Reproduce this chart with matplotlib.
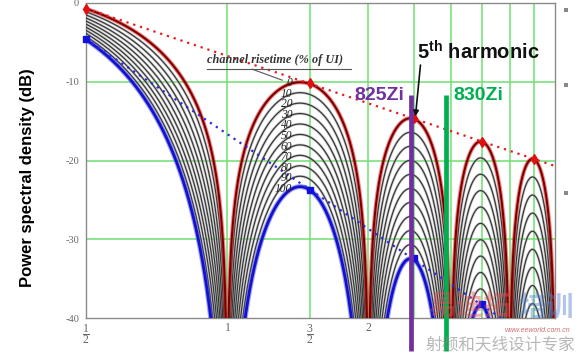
import numpy as np
import matplotlib.pyplot as plt
from matplotlib.ticker import NullLocator, FixedLocator

plt.rcParams['font.family'] = ['Liberation Sans', 'Noto Sans CJK SC', 'DejaVu Sans']
plt.rcParams['axes.unicode_minus'] = False
plt.rcParams['mathtext.fontset'] = 'custom'
plt.rcParams['mathtext.rm'] = 'Liberation Serif'
plt.rcParams['mathtext.it'] = 'Liberation Serif:italic'
plt.rcParams['mathtext.bf'] = 'Liberation Sans:bold'

# ---- data ----
risetime_pct = [0, 10, 20, 30, 40, 50, 60, 70, 80, 90, 100]
psd_offset_db = 3.2          # level of the 0% curve at f = 1/2 is about -0.7 dB
f_min, f_max = 0.5, 5.0
y_min, y_max = -40, 0

# envelope lines (dotted), end points
red_env_f = [0.5, 5.0]
red_env_db = [-0.7, -20.7]
blue_env_f = [0.5, 5.0]
blue_env_db = [-4.6, -44.6]

# peak markers
red_mark_f = [0.5, 1.5, 2.5, 3.5, 4.5]
red_mark_db = [-0.7, -10.2, -14.6, -17.6, -19.8]
blue_mark_f = [0.5, 1.5, 2.5, 3.5]
blue_mark_db = [-4.6, -23.7, -32.4, -38.2]

# scope bandwidth bars
scope_names = ['825Zi', '830Zi']
scope_f = [2.46, 2.93]
scope_colors = ['#7030a0', '#00b050']
bar_top_db = -11.7
bar_bottom_db = -44.2

xtick_vals = [0.5, 1, 1.5, 2]
xtick_labels = [r'$\dfrac{1}{2}$', r'$\mathrm{1}$', r'$\dfrac{3}{2}$', r'$\mathrm{2}$']
ytick_vals = [-40, -30, -20, -10, 0]
vgrid_f = [1, 1.5, 2, 2.5, 3, 3.5, 4, 4.5]
hgrid_db = [-10, -20, -30]

# ---- figure ----
fig = plt.figure(figsize=(5.82, 3.56), dpi=100, facecolor='white')
ax = fig.add_axes([86 / 582, 1 - 318 / 356, (555 - 86) / 582, (318 - 3) / 356])
ax.set_xscale('log')
ax.set_xlim(f_min, f_max)
ax.set_ylim(y_min, y_max)

for g in vgrid_f:
    ax.axvline(g, color='#70e070', lw=1.1, zorder=1)
for g in hgrid_db:
    ax.axhline(g, color='#70e070', lw=1.1, zorder=1)

freq = np.geomspace(f_min, f_max, 5000)
sinc_db = 20 * np.log10(np.maximum(np.abs(np.sinc(freq)), 1e-9))

curves = {}
for r in risetime_pct:
    curves[r] = psd_offset_db + (1 + r / 100) * sinc_db

for r in risetime_pct[1:-1]:
    ax.plot(freq, curves[r], color='#b4b4b4', lw=2.0, alpha=0.6, zorder=2)
    ax.plot(freq, curves[r], color='#383838', lw=0.9, zorder=3)

# 100% (blue) and 0% (red)
ax.plot(freq, curves[100], color='#4a4aff', lw=3.6, alpha=0.55, zorder=4)
ax.plot(freq, curves[100], color='#1212c8', lw=2.0, zorder=4)
ax.plot(freq, curves[0], color='#e83030', lw=3.0, alpha=0.6, zorder=5)
ax.plot(freq, curves[0], color='#7a0000', lw=1.5, zorder=5)

# envelopes
ax.plot(red_env_f, red_env_db, color='#e02020', lw=1.6, ls=(0, (1, 2.2)), zorder=6)
ax.plot(blue_env_f, blue_env_db, color='#2a2ae0', lw=1.6, ls=(0, (1, 2.2)), zorder=6)
ax.plot(red_mark_f, red_mark_db, 'd', color='#e01010', ms=5, zorder=7, clip_on=False)
ax.plot(blue_mark_f, blue_mark_db, 's', color='#1010e0', ms=5, zorder=7, clip_on=False)

# rise time labels on the second lobe
f_lab = 1.375
for r in risetime_pct:
    yv = np.interp(f_lab, freq, curves[r])
    ax.text(f_lab, yv, str(r), ha='right', va='center', fontsize=8.3,
            family='Liberation Serif', style='italic', color='#222', zorder=8)
ax.text(0.905, -7.2, 'channel risetime (% of UI)', fontsize=8.8, family='Liberation Serif',
        style='italic', weight='bold', color='#333', va='center', zorder=8)
ax.plot([0.905, 1.84], [-8.4, -8.4], color='#555', lw=0.8, zorder=8)
ax.plot([1.13, 1.31], [-8.4, -9.8], color='#555', lw=0.8, zorder=8)

# scope bars
for name, fx, col in zip(scope_names, scope_f, scope_colors):
    ax.plot([fx, fx], [bar_top_db, bar_bottom_db], color=col, lw=3.4,
            solid_capstyle='butt', clip_on=False, zorder=9)
ax.text(2.39, bar_top_db, scope_names[0], color=scope_colors[0], fontsize=14,
        weight='bold', ha='right', va='center', zorder=9)
ax.text(3.04, bar_top_db, scope_names[1], color=scope_colors[1], fontsize=14,
        weight='bold', ha='left', va='center', zorder=9)

# 5th harmonic
ax.annotate(r'5$^{\mathbf{th}}$ harmonic', xy=(2.52, -14.4), xytext=(2.54, -6.1),
            fontsize=14.5, weight='bold', color='#111', ha='left', va='center',
            arrowprops=dict(arrowstyle='-|>', color='#111', lw=1.2, mutation_scale=8,
                            shrinkA=0, shrinkB=0, relpos=(0.03, 0)), zorder=10)

# axes styling
ax.xaxis.set_major_locator(FixedLocator(xtick_vals))
ax.xaxis.set_minor_locator(NullLocator())
ax.set_xticklabels(xtick_labels)
ax.set_yticks(ytick_vals)
ax.set_yticklabels([str(v) for v in ytick_vals])
ax.tick_params(length=0, labelsize=7.5, labelcolor='#666', pad=5)
ax.tick_params(axis='x', labelsize=8.5, pad=3)
for lab in ax.get_yticklabels():
    lab.set_family('Liberation Serif')
for sp in ax.spines.values():
    sp.set_color('#8a8a8a')
    sp.set_linewidth(1.0)

fig.text(28 / 582, 0.5, 'Power spectral density (dB)', rotation=90, fontsize=12,
         weight='bold', ha='center', va='center', color='black')

# small gray squares at right edge
for yy in [10, 85, 193]:
    fig.add_artist(plt.Rectangle((564 / 582, 1 - (yy + 2) / 356), 4 / 582, 4 / 356,
                                 transform=fig.transFigure, color='#888', lw=0))

# watermark
fig.text(428 / 582, 1 - 322 / 356, '易迪拓', fontsize=20, weight='bold', color='#e05050',
         alpha=0.45, family='Noto Sans CJK SC', va='bottom')
fig.text(518 / 582, 1 - 322 / 356, '培训', fontsize=20, weight='bold', color='#5080d0',
         alpha=0.45, family='Noto Sans CJK SC', va='bottom')
fig.text(505 / 582, 1 - 330 / 356, 'www.eeworld.com.cn', fontsize=5, style='italic',
         color='#c03030', alpha=0.7, va='center')
fig.text(426 / 582, 1 - 345 / 356, '射频和天线设计专家', fontsize=12, color='#888',
         alpha=0.6, family='Noto Sans CJK SC', va='center')

fig.savefig('out.png', dpi=100, facecolor='white')
